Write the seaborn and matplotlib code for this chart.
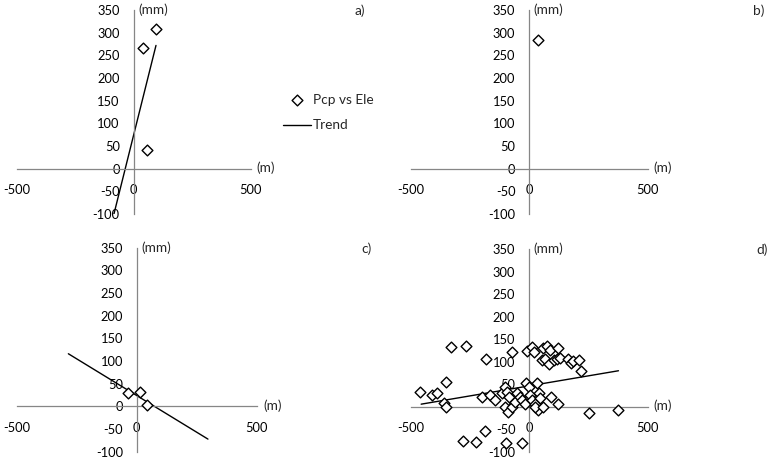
import matplotlib
matplotlib.use("Agg")
import matplotlib.pyplot as plt
import seaborn as sns
import numpy as np
import pandas as pd

# --- data (elevation difference in m, precipitation in mm) ---
a_ele = [95, 41, 56]
a_pcp = [308, 266, 42]

b_ele = [35]
b_pcp = [284]

c_ele = [-35, 14, 42]
c_pcp = [29, 32, 2]

d_ele = [-332, -265, -181, -73, -10, 11, 21, 57, 74, 88, 123,
         53, 67, 81, 105, 116, 130, 165, 177, 184, 210, 217,
         -353, -459, -410, -391, -360, -351, -199, -164, -143, -115,
         -101, -94, -87, -101, -90, -73, -59, -52, -38, -31, -17,
         -14, -3, 4, 11, 25, 32, 39, 46, 36, 25, 57, 93, 121,
         250, 376, -281, -224, -185, -98, -31]
d_pcp = [133, 135, 107, 122, 124, 133, 122, 130, 135, 126, 131,
         104, 107, 94, 104, 107, 109, 107, 98, 101, 104, 79,
         56, 32, 26, 31, 9, 0, 21, 26, 15, 30,
         44, 33, 22, 0, -11, 0, 11, 30, 22, 15, 7,
         53, 44, 26, 15, 7, 52, 30, 19, -7, 0, 0, 22, 6,
         -13, -7, -76, -78, -53, -80, -79]

# trend lines: slope, intercept and x extent as drawn in the reference
trend = {
    "a": (2.07, 75.0, [-100, 95]),
    "c": (-0.324, 23.7, [-285, 296]),
    "d": (0.089, 46.6, [-456, 376]),
}

panels = {
    "a": (a_ele, a_pcp),
    "b": (b_ele, b_pcp),
    "c": (c_ele, c_pcp),
    "d": (d_ele, d_pcp),
}

x_ticks = [-500, 0, 500]
y_ticks = list(range(-100, 351, 50))

sns.set_theme(style="white")
plt.rcParams["font.family"] = ["Lato", "DejaVu Sans"]
plt.rcParams["axes.unicode_minus"] = False

fig = plt.figure(figsize=(7.7, 4.61), dpi=100)

# axes boxes in figure fraction [left, bottom, width, height]
boxes = {
    "a": [0.0217, 0.536, 0.304, 0.4425],
    "b": [0.5334, 0.536, 0.308, 0.4425],
    "c": [0.0217, 0.0202, 0.312, 0.4425],
    "d": [0.5334, 0.0195, 0.308, 0.4405],
}
label_x = {"a": 0.460, "b": 0.9775, "c": 0.4697, "d": 0.982}

axis_grey = "#868686"
fs = 9.8

for key, (ele, pcp) in panels.items():
    ax = fig.add_axes(boxes[key])
    df = pd.DataFrame({"ele": ele, "pcp": pcp})
    sns.scatterplot(data=df, x="ele", y="pcp", ax=ax, marker="D", s=30,
                    facecolor="white", edgecolor="black", linewidth=1.0,
                    label="Pcp vs Ele", zorder=3, legend=False)
    if key in trend:
        slope, inter, xr = trend[key]
        tx = np.array(xr, dtype=float)
        tdf = pd.DataFrame({"x": tx, "y": slope * tx + inter})
        sns.lineplot(data=tdf, x="x", y="y", ax=ax, color="black",
                     linewidth=1.0, label="Trend", zorder=2, legend=False)

    ax.set_xlim(-500, 500)
    ax.set_ylim(-100, 350)
    ax.spines["left"].set_position(("data", 0))
    ax.spines["bottom"].set_position(("data", 0))
    ax.spines["top"].set_visible(False)
    ax.spines["right"].set_visible(False)
    for s in ("left", "bottom"):
        ax.spines[s].set_color(axis_grey)
        ax.spines[s].set_linewidth(0.9)
    ax.set_xticks(x_ticks)
    ax.set_yticks(y_ticks)
    ax.tick_params(axis="both", direction="out", length=3, width=0.8,
                   color=axis_grey, labelsize=9.3, labelcolor="black")
    ax.tick_params(axis="x", pad=8)
    ax.tick_params(axis="y", pad=7)
    ax.set_xlabel("")
    ax.set_ylabel("")
    ax.patch.set_alpha(0)
    for lab in ax.get_xticklabels() + ax.get_yticklabels():
        lab.set_clip_on(False)

    ax.text(18, 350, "(mm)", fontsize=fs, ha="left", va="center")
    ax.text(525, 2, "(m)", fontsize=fs, ha="left", va="center", clip_on=False)
    fig.text(label_x[key], boxes[key][1] + boxes[key][3] - 0.002, key + ")",
             fontsize=fs, ha="left", va="center")

    if key == "a":
        handles, labels = ax.get_legend_handles_labels()
        fig.legend(handles, labels, loc="center left",
                   bbox_to_anchor=(0.367, 0.756), frameon=False, fontsize=fs,
                   handlelength=2.1, handletextpad=0.1, labelspacing=1.0,
                   scatterpoints=1, borderpad=0, borderaxespad=0)

fig.savefig("out.png", dpi=100)
